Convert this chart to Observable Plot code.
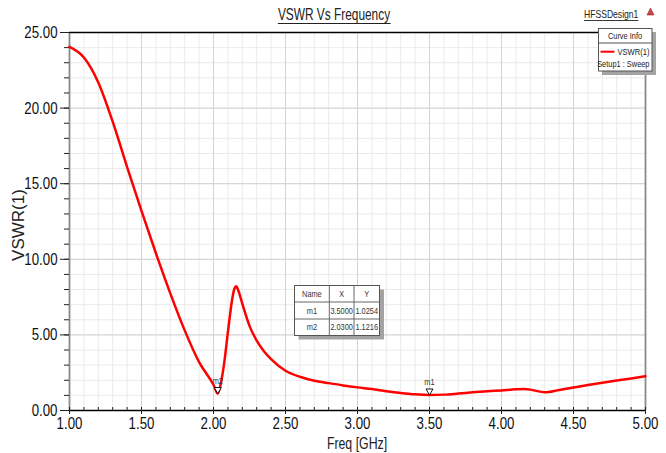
<!DOCTYPE html>
<html><head><meta charset="utf-8">
<script src="https://cdn.jsdelivr.net/npm/d3@7"></script>
<script src="https://cdn.jsdelivr.net/npm/@observablehq/plot@0.6"></script>
<style>
body{margin:0;background:#fff;}
#wrap{position:relative;width:666px;height:453px;overflow:hidden;font-family:"Liberation Sans",Arial,sans-serif;color:#222;}
#overlay{position:absolute;left:0;top:0;pointer-events:none;}
</style></head><body><div id="wrap"></div>
<script>
// Curve: VSWR(1) vs Freq [GHz]
const freq = [1.00,1.10,1.20,1.30,1.40,1.50,1.60,1.70,1.80,1.90,2.00,2.03,2.05,2.07,2.104,2.128,2.145,2.158,2.172,2.19,2.21,2.25,2.30,2.35,2.40,2.50,2.60,2.70,2.80,2.90,3.00,3.10,3.20,3.30,3.40,3.50,3.60,3.70,3.80,3.90,4.00,4.10,4.16,4.20,4.30,4.40,4.50,4.60,4.70,4.80,4.90,5.00];
const vswr = [24.05,23.35,21.7,19.1,16.1,13.2,10.4,7.75,5.3,3.2,1.7,1.12,1.75,2.85,5.5,7.26,8.05,8.22,7.95,7.4,6.75,5.6,4.62,3.92,3.4,2.63,2.23,1.97,1.81,1.66,1.53,1.42,1.28,1.16,1.07,1.03,1.05,1.12,1.2,1.27,1.33,1.4,1.42,1.38,1.2,1.36,1.52,1.68,1.83,1.98,2.12,2.27];
// Markers
const markerNames = ["m1","m2"];
const markerX = [3.5, 2.03];
const markerY = [1.0254, 1.1216];
const tableHead = ["Name","X","Y"];
// Ticks
const xMajor = [1.0,1.5,2.0,2.5,3.0,3.5,4.0,4.5,5.0];
const yMajor = [0,5,10,15,20,25];
const xMinor = d3.range(10, 51).map(i => i / 10);
const yMinor = d3.range(0, 26);
// Texts
const titleText = "VSWR Vs Frequency";
const designText = "HFSSDesign1";
const xLabel = "Freq [GHz]";
const yLabel = "VSWR(1)";
const legendHead = "Curve Info";
const seriesName = "VSWR(1)";
const setupName = "Setup1 : Sweep";

const data = freq.map((f, i) => ({f, v: vswr[i]}));
const markers = markerNames.map((n, i) => ({n, x: markerX[i], y: markerY[i]}));
const font = '"Liberation Sans",Arial,sans-serif';

const chart = Plot.plot({
  width: 666, height: 453,
  marginLeft: 69, marginRight: 21, marginTop: 32, marginBottom: 43,
  x: {domain: [1, 5]},
  y: {domain: [0, 25]},
  style: {fontFamily: font, fontSize: "17px", color: "#111", background: "#fff", overflow: "visible"},
  marks: [
    Plot.gridX(xMinor, {stroke: "#ebebeb", strokeOpacity: 1}),
    Plot.gridY(yMinor, {stroke: "#ebebeb", strokeOpacity: 1}),
    Plot.gridX(xMajor, {stroke: "#d2d2d2", strokeOpacity: 1}),
    Plot.gridY(yMajor, {stroke: "#d2d2d2", strokeOpacity: 1}),
    Plot.ruleX([1, 5], {stroke: "#8a8a8a", strokeWidth: 1.8}),
    Plot.ruleY([0, 25], {stroke: "#000", strokeWidth: 1.3}),
    Plot.axisY(yMinor, {tickSize: 5, tickFormat: () => "", label: null, stroke: "#222"}),
    Plot.axisY(yMajor, {tickSize: 9, tickPadding: 3, tickFormat: d => d.toFixed(2), fontSize: 17, stroke: "#222", label: null}),
    Plot.axisX(xMinor, {tickSize: -3, tickFormat: () => "", label: null, stroke: "#222"}),
    Plot.axisX(xMajor, {tickSize: 4, tickPadding: 2, tickFormat: d => d.toFixed(2), fontSize: 17, stroke: "#222", label: null}),
    Plot.line(data, {x: "f", y: "v", stroke: "#ff0000", strokeWidth: 2.5, curve: "monotone-x"}),
    Plot.dot(markers, {x: "x", y: "y", symbol: "triangle", rotate: 180, r: 2.6, fill: "#fff", stroke: "#000", strokeWidth: 0.9, dy: -4}),
    Plot.text(markers, {x: "x", y: "y", text: "n", dy: -13, fontSize: 9.5, fill: "#333"})
  ]
});

const wrap = document.getElementById("wrap");
wrap.appendChild(chart);

// horizontally condense text (the reference uses a narrow face)
function narrow(sel, f) {
  sel.each(function() {
    const L = this.getComputedTextLength();
    if (L > 0) { this.setAttribute("textLength", L * f); this.setAttribute("lengthAdjust", "spacingAndGlyphs"); }
  });
}
const plotSvg = d3.select(chart.tagName.toLowerCase() === "svg" ? chart : chart.querySelector("svg"));
narrow(plotSvg.selectAll("text"), 0.78);

// overlay: title, design name, legend, marker table, axis labels
const ov = d3.select(wrap).append("svg").attr("id", "overlay").attr("width", 666).attr("height", 453)
  .style("font-family", font);

function txt(x, y, s, size, anchor, f, fill = "#222") {
  const t = ov.append("text").attr("x", x).attr("y", y).attr("font-size", size)
    .attr("text-anchor", anchor).attr("fill", fill).text(s);
  if (f !== 1) narrow(t, f);
  return t;
}
// title
const tt = txt(334, 20, titleText, 16.5, "middle", 0.72);
const tb = tt.node().getBBox();
ov.append("line").attr("x1", tb.x).attr("x2", tb.x + tb.width).attr("y1", 23.5).attr("y2", 23.5).attr("stroke", "#222");
// design name
const dt = txt(584, 18, designText, 11, "start", 0.78);
const db = dt.node().getBBox();
ov.append("line").attr("x1", db.x).attr("x2", db.x + db.width).attr("y1", 20.5).attr("y2", 20.5).attr("stroke", "#222").attr("stroke-width", 0.9);
ov.append("path").attr("d", "M647,15L654,15L650.5,8Z").attr("fill", "#c94444").attr("stroke", "#9a2a2a").attr("stroke-width", 0.6);
// legend box
ov.append("rect").attr("x", 602).attr("y", 32).attr("width", 54).attr("height", 43).attr("fill", "#a3a3a3");
ov.append("rect").attr("x", 598.5).attr("y", 28.5).attr("width", 53.5).attr("height", 42.5).attr("fill", "#fff").attr("stroke", "#555");
txt(625, 38.5, legendHead, 9.5, "middle", 0.78);
ov.append("line").attr("x1", 598.5).attr("x2", 652).attr("y1", 43).attr("y2", 43).attr("stroke", "#555");
ov.append("line").attr("x1", 600.5).attr("x2", 614.5).attr("y1", 51.7).attr("y2", 51.7).attr("stroke", "#ff0000").attr("stroke-width", 2);
txt(649.5, 55, seriesName, 9.5, "end", 0.8);
txt(649.5, 66.5, setupName, 9.5, "end", 0.78);
// marker table
const tx = [294.5, 329.3, 354, 379.5];
const ty = [285.5, 302, 319, 335.5];
ov.append("rect").attr("x", 298.5).attr("y", 289.5).attr("width", 85.5).attr("height", 50).attr("fill", "#a3a3a3");
ov.append("rect").attr("x", tx[0]).attr("y", ty[0]).attr("width", tx[3] - tx[0]).attr("height", ty[3] - ty[0]).attr("fill", "#fff").attr("stroke", "#555");
[tx[1], tx[2]].forEach(x => ov.append("line").attr("x1", x).attr("x2", x).attr("y1", ty[0]).attr("y2", ty[3]).attr("stroke", "#666"));
[ty[1], ty[2]].forEach(y => ov.append("line").attr("x1", tx[0]).attr("x2", tx[3]).attr("y1", y).attr("y2", y).attr("stroke", "#666"));
const rows = [tableHead].concat(markers.map(m => [m.n, m.x.toFixed(4), m.y.toFixed(4)]));
rows.forEach((r, i) => r.forEach((c, j) => {
  txt((tx[j] + tx[j + 1]) / 2, (ty[i] + ty[i + 1]) / 2 + 3, c, 8.2, "middle", 0.9, "#333");
}));
// axis labels
txt(357, 448.5, xLabel, 16, "middle", 0.77);
ov.append("text").attr("transform", "translate(24,225) rotate(-90)").attr("font-size", 17)
  .attr("text-anchor", "middle").attr("fill", "#222").text(yLabel);
</script>
</body></html>
